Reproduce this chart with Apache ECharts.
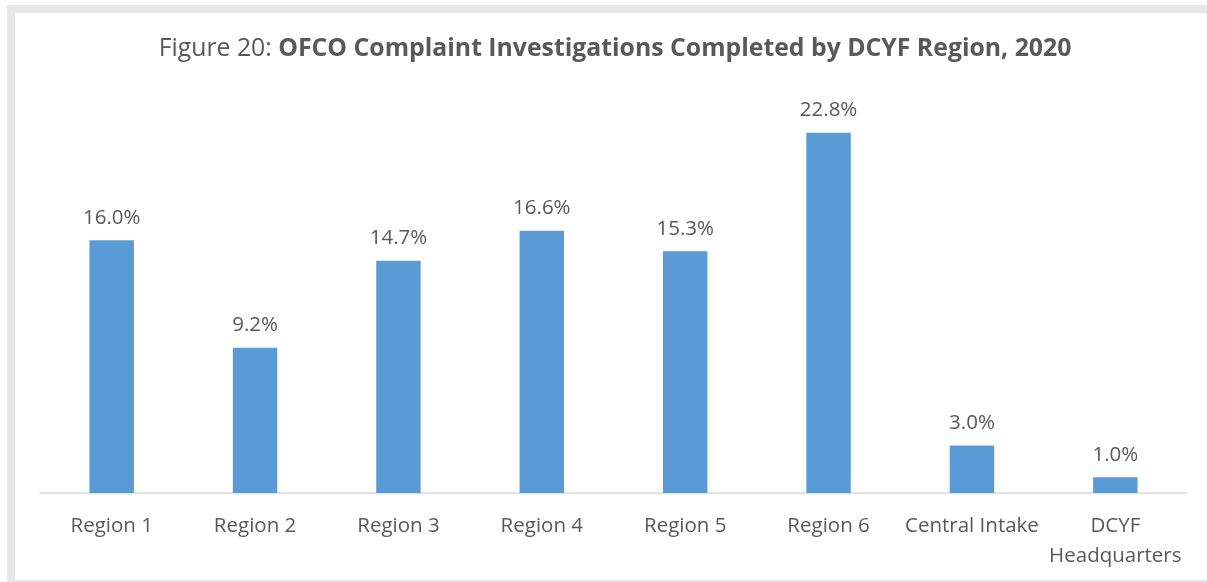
<!DOCTYPE html>
<html>
<head>
<meta charset="utf-8">
<script src="https://cdn.jsdelivr.net/npm/echarts@6/dist/echarts.min.js"></script>
<style>
  html, body { margin: 0; padding: 0; background: #fff; }
  #frame {
    position: absolute; left: 7px; top: 5px; width: 1300px; height: 567px;
    border-left: 8px solid #e6e6e6; border-top: 8px solid #e6e6e6; border-bottom: 2px solid #e6e6e6;
  }
  #chart { position: absolute; left: 0; top: 0; width: 1207px; height: 582px; }
</style>
</head>
<body>
<div id="frame"></div>
<div id="chart"></div>
<script>
var categories = ['Region 1', 'Region 2', 'Region 3', 'Region 4', 'Region 5', 'Region 6', 'Central Intake', 'DCYF\nHeadquarters'];
var percents = [16.0, 9.2, 14.7, 16.6, 15.3, 22.8, 3.0, 1.0];

var font = 'Open Sans';
var grey = '#595959';

option = {
    animation: false,
    title: {
        text: '{a|Figure 20: }{b|OFCO Complaint Investigations Completed by DCYF Region, 2020}',
        left: 610,
        top: 31,
        textAlign: 'center',
        textStyle: {
            rich: {
                a: {fontFamily: font, fontSize: 24.8, color: grey, fontWeight: 'normal'},
                b: {fontFamily: font, fontSize: 24.8, color: grey, fontWeight: 'bold'}
            }
        }
    },
    grid: {left: 40, right: 20, top: 98, bottom: 89},
    xAxis: {
        type: 'category',
        data: categories,
        axisLine: {lineStyle: {color: '#d9d9d9', width: 1.5}},
        axisTick: {show: false},
        axisLabel: {
            interval: 0,
            color: grey,
            fontFamily: font,
            fontSize: 20.5,
            lineHeight: 30,
            margin: 18
        }
    },
    yAxis: {
        type: 'value',
        min: 0,
        max: 25,
        show: false,
        splitLine: {show: false}
    },
    series: [
        {
            type: 'bar',
            data: percents,
            barWidth: '31%',
            itemStyle: {color: '#5b9bd5'},
            label: {
                show: true,
                position: 'top',
                distance: 12,
                color: grey,
                fontFamily: font,
                fontSize: 20.5,
                formatter: function (p) { return p.value.toFixed(1) + '%'; }
            }
        }
    ]
};
var myChart = echarts.init(document.getElementById('chart'));
myChart.setOption(option);
</script>
</body>
</html>
